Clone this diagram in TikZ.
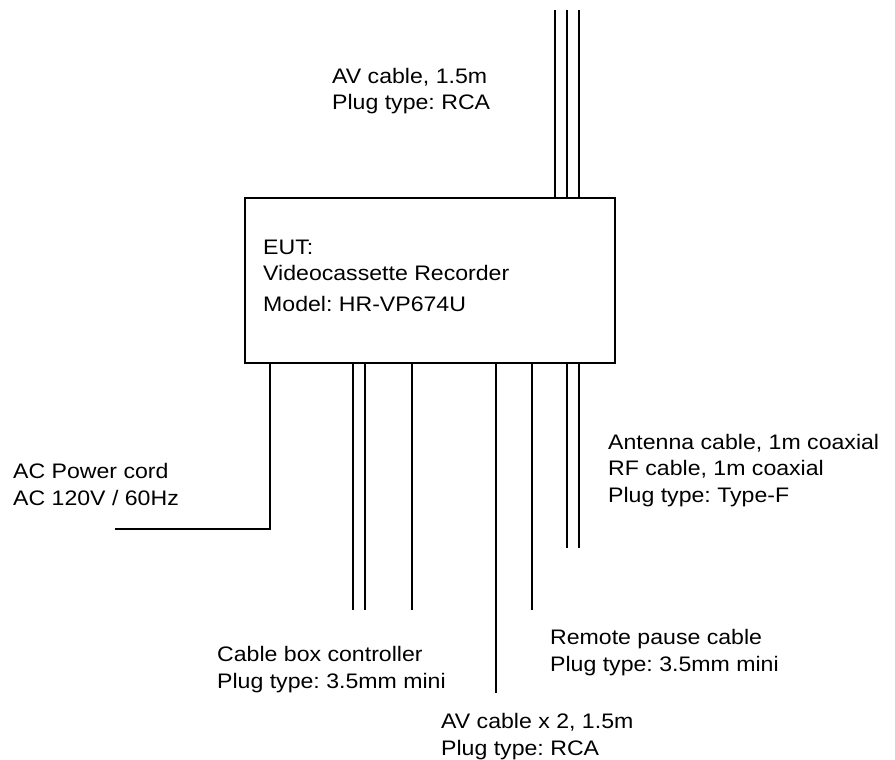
\documentclass[tikz,border=0pt]{standalone}
\usepackage{fontspec}
\setmainfont[FakeStretch=1.1]{Liberation Sans}
\frenchspacing
\begin{document}
\begin{tikzpicture}[x=1pt,y=-1pt,
  cable/.style={line width=1.7pt},
  lbl/.style={anchor=base west,inner sep=0pt,align=left,font=\fontsize{21}{26.5}\selectfont}]
\useasboundingbox (0,0) rectangle (895,760);
\node[draw,line width=1.7pt,minimum width=370pt,minimum height=165pt,inner sep=0pt] (eut) at (430,280.5) {};
\node[lbl] (eutt) at (263,311) {EUT:\\Videocassette Recorder\\[4pt]Model: HR-VP674U};
% top cables
\coordinate (t1) at (555,10);
\coordinate (t2) at (567,10);
\coordinate (t3) at (579,10);
\foreach \c in {t1,t2,t3} \draw[cable] (eut.north -| \c) -- (\c);
% AC power
\coordinate (ac) at (115,529);
\draw[cable] (eut.south -| 270,0) |- (ac);
% bottom cables
\coordinate (c1) at (353,610);
\coordinate (c2) at (365,610);
\coordinate (c3) at (412,610);
\coordinate (av) at (496,693);
\coordinate (rp) at (532,610);
\coordinate (an1) at (567,548);
\coordinate (an2) at (579,548);
\foreach \c in {c1,c2,c3,av,rp,an1,an2} \draw[cable] (eut.south -| \c) -- (\c);
% labels
\node[lbl] (lavt) at (332,110) {AV cable, 1.5m\\Plug type: RCA};
\node[lbl] (lac) at (13,505) {AC Power cord\\AC 120V / 60Hz};
\node[lbl] (lcb) at (217,688) {Cable box controller\\Plug type: 3.5mm mini};
\node[lbl] (lavb) at (441,755) {AV cable x 2, 1.5m\\Plug type: RCA};
\node[lbl] (lrp) at (550,671) {Remote pause cable\\Plug type: 3.5mm mini};
\node[lbl] (lan) at (608,502) {Antenna cable, 1m coaxial\\RF cable, 1m coaxial\\Plug type: Type-F};
\end{tikzpicture}
\end{document}
